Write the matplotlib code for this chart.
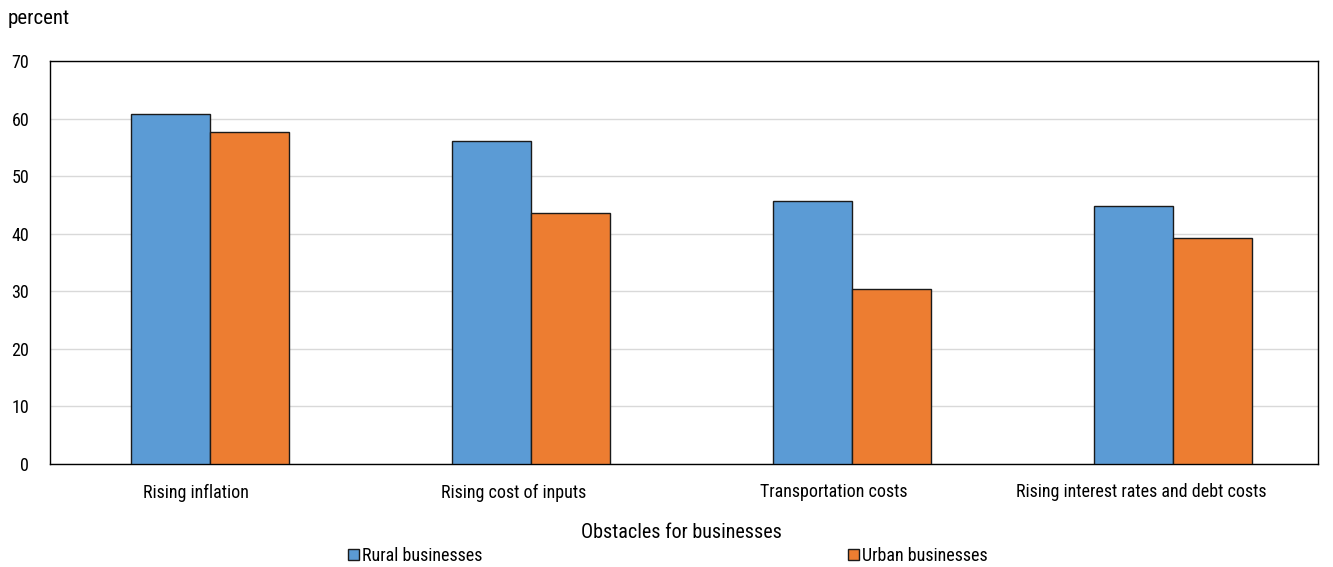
import matplotlib
matplotlib.use("Agg")
import matplotlib.pyplot as plt
from matplotlib import font_manager
from matplotlib.transforms import ScaledTranslation
import numpy as np

installed = {f.name for f in font_manager.fontManager.ttflist}
preferred = ["Roboto Condensed", "Archivo Narrow", "PT Sans Narrow",
             "Liberation Sans Narrow", "Barlow Semi Condensed", "DejaVu Sans"]
family = next(n for n in preferred if n in installed)
plt.rcParams["font.family"] = [family, "DejaVu Sans"]

categories = ["Rising inflation", "Rising cost of inputs", "Transportation costs",
              "Rising interest rates and debt costs"]
rural = [60.8, 56.1, 45.7, 44.8]
urban = [57.7, 43.6, 30.4, 39.3]
series_names = ["Rural businesses", "Urban businesses"]
colors = ["#5B9BD5", "#ED7D31"]

W, H = 1333, 567
fig = plt.figure(figsize=(W / 100, H / 100), dpi=100)
ax_left, ax_right, ax_top, ax_bottom = 50, 1318, 61, 464
ax = fig.add_axes([ax_left / W, 1 - ax_bottom / H,
                   (ax_right - ax_left) / W, (ax_bottom - ax_top) / H])

# category slots are 321 px wide, bars 79 px each
slot_px = 321.0
x = np.arange(len(categories))
w = 79 / slot_px
ax.bar(x - w / 2, rural, w, color=colors[0], edgecolor="#1a1a1a", linewidth=1.0,
       label=series_names[0], zorder=3)
ax.bar(x + w / 2, urban, w, color=colors[1], edgecolor="#1a1a1a", linewidth=1.0,
       label=series_names[1], zorder=3)

x0 = -0.5 + 0.5 / slot_px
ax.set_xlim(x0, x0 + (ax_right - ax_left) / slot_px)
ax.set_ylim(0, 70)
ax.set_yticks(range(0, 71, 10))
ax.yaxis.grid(True, color="#d9d9d9", linewidth=1.0, zorder=0)
ax.set_axisbelow(True)
for s in ax.spines.values():
    s.set_color("black")
    s.set_linewidth(1.0)
ax.tick_params(axis="both", length=0, labelsize=13, colors="black")
ax.tick_params(axis="y", pad=15)
ax.tick_params(axis="x", pad=14)
ax.set_xticks(x)
ax.set_xticklabels(categories)

# category labels sit a little left of their bar pairs
label_shift_px = [14, 17.5, 18, 32]
for lbl, dx in zip(ax.get_xticklabels(), label_shift_px):
    lbl.set_transform(lbl.get_transform() + ScaledTranslation(-dx / 100, 0, fig.dpi_scale_trans))

fig.text(8 / W, 1 - 18 / H, "percent", fontsize=15, va="center", ha="left")
fig.text(681 / W, 1 - 532 / H, "Obstacles for businesses",
         fontsize=14.5, ha="center", va="center")

handles, labels = ax.get_legend_handles_labels()
for h, lab, xpx in zip(handles, labels, [348, 848]):
    fig.legend([h], [lab], loc="center left", bbox_to_anchor=(xpx / W, 1 - 556 / H),
               frameon=False, fontsize=13, handlelength=0.61, handleheight=0.61,
               handletextpad=0.17, borderpad=0, borderaxespad=0)

fig.savefig("out.png", dpi=100)
